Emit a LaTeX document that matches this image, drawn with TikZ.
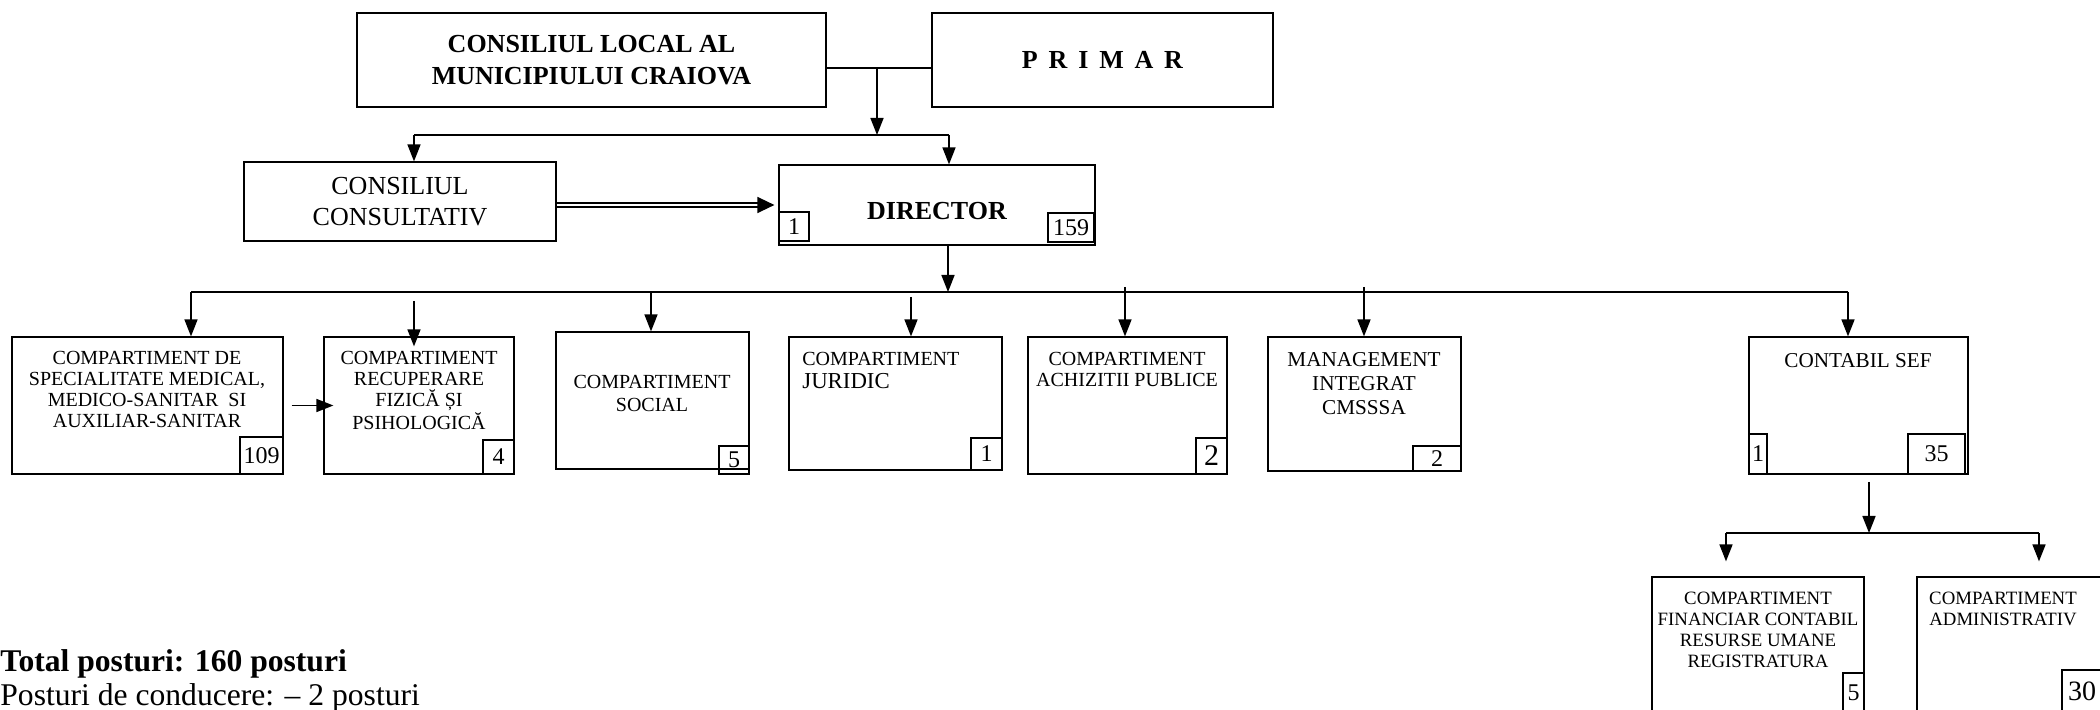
\documentclass[tikz,border=0pt]{standalone}
\usepackage{fontspec}
\setmainfont{Liberation Serif}
\usetikzlibrary{arrows.meta, positioning, calc, fit}

\tikzset{
  box/.style={draw, line width=0.6pt, inner sep=0pt},
  numbox/.style={draw, line width=0.6pt, inner sep=0pt},
  num/.style={inner sep=0pt, font=\fontsize{12}{12}\selectfont},
  txt/.style={font=\fontsize{10}{10.4}\selectfont, align=center, anchor=north, inner sep=0pt},
  line/.style={line width=0.9pt},
  arr/.style={line width=0.8pt, -{Triangle[length=8.5pt, width=6.5pt]}},
  dbl/.style={double, double distance=1.3pt, line width=0.7pt, -{Triangle[length=8.5pt, width=8pt]}},
}

\begin{document}
\begin{tikzpicture}[x=0.5pt, y=-0.5pt]

\useasboundingbox (0,0) rectangle (2100,710);
\clip (0,0) rectangle (2100,710);

% Top level
\node[box, fit={(357,13) (826,107)}] (cl) {};
\node[align=center, font=\bfseries\fontsize{13}{16}\selectfont] (cl-t) at (cl) {CONSILIUL LOCAL AL\\MUNICIPIULUI CRAIOVA};
\node[box, fit={(932,13) (1273,107)}] (pr) {};
\node[font=\bfseries\fontsize{13}{16}\selectfont] (pr-t) at (pr) {P\, R\, I\, M\, A\, R};

% Consultativ and director
\node[box, fit={(244,162) (556,241)}] (cons) {};
\node[align=center, font=\fontsize{13}{15.5}\selectfont] (cons-t) at (cons) {CONSILIUL\\CONSULTATIV};
\node[box, fit={(779,165) (1095,245)}] (dir) {};
\node[font=\bfseries\fontsize{13}{15}\selectfont] (dir-t) at ($(dir)+(0,6)$) {DIRECTOR};
\node[numbox, fit={(779,212) (809,241)}] (dir-n1) {};
\node[num] at (dir-n1) {1};
\node[numbox, fit={(1048,213) (1094,242)}] (dir-n2) {};
\node[num] at (dir-n2) {159};

% Links at the top
\coordinate (j1) at (877,68);
\coordinate (j2) at (877,135);
\coordinate (jc) at (414,135);
\coordinate (jd) at (949,135);
\draw[line] (cl.east |- j1) -- (pr.west |- j1);
\draw[arr] (j1) -- (j2);
\draw[line] (jc) -- (jd);
\draw[arr] (jc) -- (cons.north -| jc);
\draw[arr] (jd) -- (dir.north -| jd);
\draw[dbl, shorten >=2pt] (cons.east |- dir.west) -- (dir.west);

% Compartments
\node[box, fit={(12,337) (283,474)}] (med) {};
\node[txt] (med-t) at (147,351) {COMPARTIMENT DE\\SPECIALITATE MEDICAL,\\MEDICO-SANITAR\ \ SI\\AUXILIAR-SANITAR};
\node[numbox, fit={(240,437) (283,474)}] (med-n) {};
\node[num] at (med-n) {109};

\node[box, fit={(324,337) (514,474)}] (rec) {};
\node[txt] (rec-t) at (419,351) {COMPARTIMENT\\RECUPERARE\\FIZICĂ ȘI\\PSIHOLOGICĂ};
\node[numbox, fit={(483,440) (514,474)}] (rec-n) {};
\node[num] at (rec-n) {4};

\node[box, fit={(556,332) (749,469)}] (soc) {};
\node[txt, font=\fontsize{10}{11.4}\selectfont] (soc-t) at (652,375) {COMPARTIMENT\\SOCIAL};
\node[numbox, fit={(719,446) (749,474)}] (soc-n) {};
\node[num] at (soc-n) {5};

\node[box, fit={(789,337) (1002,470)}] (jur) {};
\node[txt, anchor=north west, align=left, font=\fontsize{10}{11.4}\selectfont] (jur-t) at (802,352) {COMPARTIMENT\\{\fontsize{11.4}{11.4}\selectfont JURIDIC}};
\node[numbox, fit={(971,438) (1002,470)}] (jur-n) {};
\node[num] at (jur-n) {1};

\node[box, fit={(1028,337) (1227,474)}] (ach) {};
\node[txt] (ach-t) at (1127,352) {COMPARTIMENT\\ACHIZITII PUBLICE};
\node[numbox, fit={(1196,438) (1227,474)}] (ach-n) {};
\node[num, font=\fontsize{15}{15}\selectfont] at (ach-n) {2};

\node[box, fit={(1268,337) (1461,471)}] (man) {};
\node[txt, font=\fontsize{10.6}{12}\selectfont] (man-t) at (1364,352) {MANAGEMENT\\INTEGRAT\\CMSSSA};
\node[numbox, fit={(1413,446) (1461,471)}] (man-n) {};
\node[num] at (man-n) {2};

\node[box, fit={(1749,337) (1968,474)}] (cs) {};
\node[txt, font=\fontsize{10.6}{12}\selectfont] (cs-t) at (1858,353) {CONTABIL SEF};
\node[numbox, fit={(1749,434) (1767,474)}] (cs-n1) {};
\node[num] at (cs-n1) {1};
\node[numbox, fit={(1908,434) (1965,474)}] (cs-n2) {};
\node[num] at (cs-n2) {35};

% Director to compartments
\coordinate (busL) at (191,292);
\coordinate (busR) at (1848,292);
\coordinate (busD) at (948,292);
\draw[line] (busL) -- (busR);
\draw[arr] (dir.south -| busD) -- (busD);
\foreach \n/\x/\s/\o in {med/191/292/0, rec/414/301/-5, soc/651/292/0, jur/911/297/0, ach/1125/287/0, man/1364/287/0, cs/1848/292/0}
  \draw[arr, shorten >=\o pt] (\x,\s) -- (\n.north -| \x,0);
\draw[arr, shorten <=4pt, shorten >=-5pt] (med.east) -- (rec.west);

% Under contabil sef
\node[box, fit={(1652,577) (1864,740)}] (fin) {};
\node[txt, font=\fontsize{9.4}{10.5}\selectfont] (fin-t) at (1758,592) {COMPARTIMENT\\FINANCIAR CONTABIL\\RESURSE UMANE\\REGISTRATURA};
\node[numbox, fit={(1843,673) (1864,712)}] (fin-n) {};
\node[num] at (fin-n) {5};

\node[box, fit={(1917,577) (2130,740)}] (adm) {};
\node[txt, font=\fontsize{9.4}{10.5}\selectfont] (adm-t) at (2003,592) {COMPARTIMENT\\ADMINISTRATIV};
\node[numbox, fit={(2062,670) (2102,712)}] (adm-n) {};
\node[num, font=\fontsize{14}{14}\selectfont] at (adm-n) {30};

\coordinate (subT) at (1869,482);
\coordinate (sub) at (1869,533);
\coordinate (subL) at (1726,533);
\coordinate (subR) at (2039,533);
\draw[arr] (subT) -- (sub);
\draw[line] (subL) -- (subR);
\draw[arr, shorten >=7.5pt] (subL) -- (subL |- fin.north);
\draw[arr, shorten >=7.5pt] (subR) -- (subR |- adm.north);

% Totals
\node[anchor=base west, inner sep=0pt, font=\bfseries\fontsize{15.8}{17}\selectfont] (tot) at (0,672) {Total posturi: 160 posturi};
\node[anchor=base west, inner sep=0pt, font=\fontsize{15.8}{17}\selectfont] (cond) at (0,706) {Posturi de conducere: – 2 posturi};

\end{tikzpicture}
\end{document}
